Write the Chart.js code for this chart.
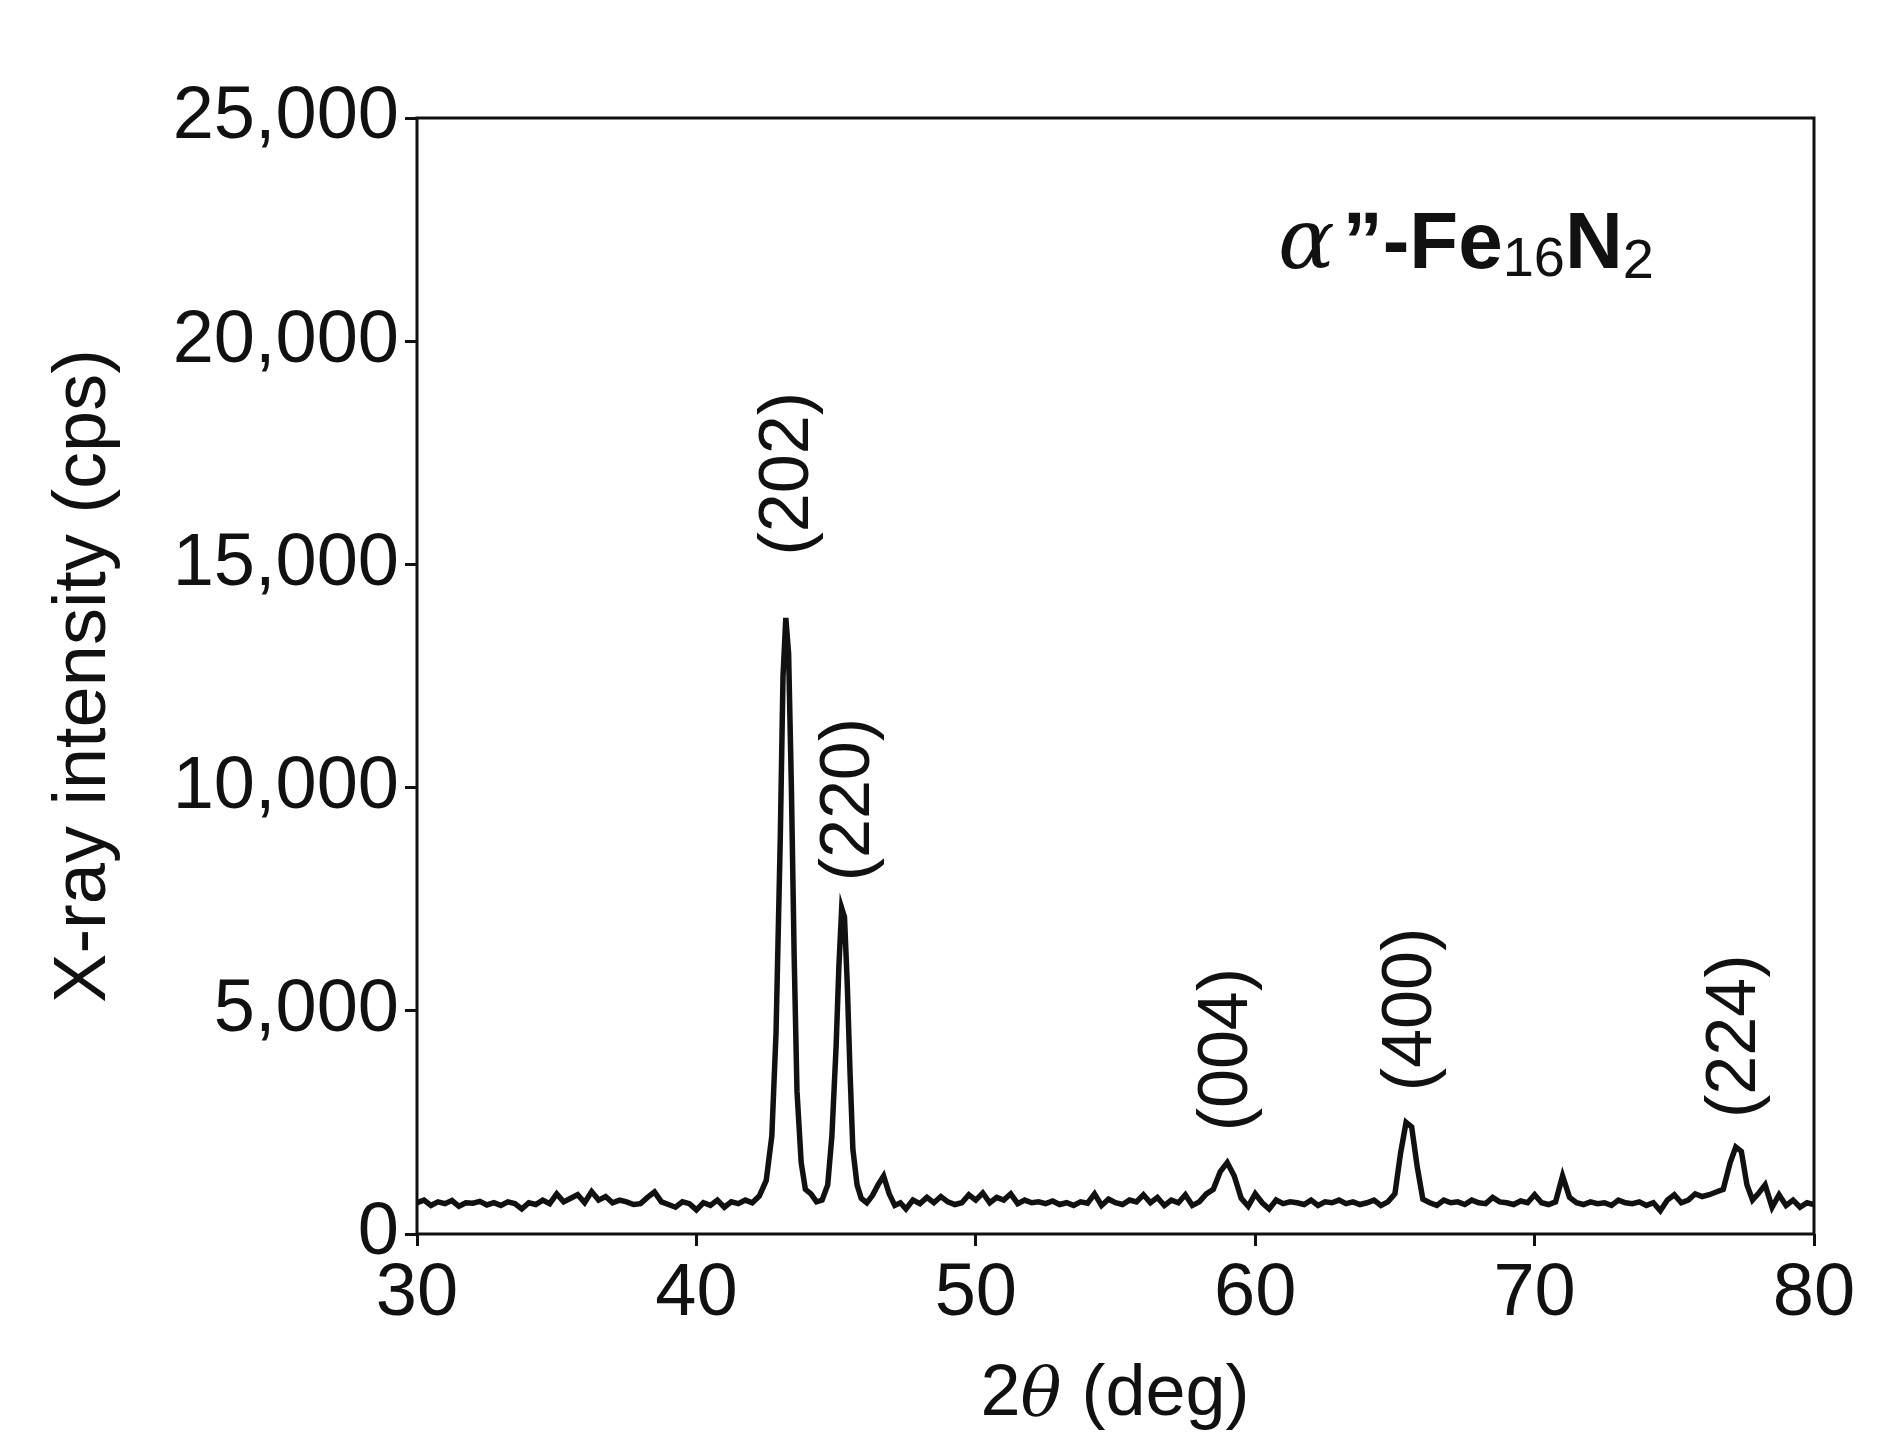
<!DOCTYPE html>
<html>
<head>
<meta charset="utf-8">
<script src="https://cdn.jsdelivr.net/npm/chart.js@4/dist/chart.umd.min.js"></script>
<style>
  body { margin: 0; background: #fff; }
  #wrap { width: 1884px; height: 1446px; }
</style>
</head>
<body>
<div id="wrap"><canvas id="xrd" width="1884" height="1446"></canvas></div>
<script>
// 2theta (deg) and intensity (cps)
const angles = [
  30, 30.25, 30.5, 30.75, 31, 31.25, 31.5, 31.75, 32, 32.25, 32.5, 32.75, 33, 33.25, 33.5, 33.75,
  34, 34.25, 34.5, 34.75, 35, 35.25, 35.5, 35.75, 36, 36.25, 36.5, 36.75, 37, 37.25, 37.5, 37.75,
  38, 38.25, 38.5, 38.75, 39, 39.25, 39.5, 39.75, 40, 40.25, 40.5, 40.75, 41, 41.25, 41.5, 41.75,
  42, 42.25, 42.5, 42.7, 42.85, 43, 43.1, 43.2, 43.3, 43.4, 43.5, 43.6, 43.75, 43.9, 44.1, 44.3,
  44.5, 44.7, 44.85, 45, 45.1, 45.2, 45.3, 45.4, 45.5, 45.6, 45.75, 45.9, 46.1, 46.3, 46.5, 46.7,
  46.9, 47.1, 47.3, 47.5, 47.75, 48, 48.25, 48.5, 48.75, 49, 49.25, 49.5, 49.75, 50, 50.25, 50.5,
  50.75, 51, 51.25, 51.5, 51.75, 52, 52.25, 52.5, 52.75, 53, 53.25, 53.5, 53.75, 54, 54.25, 54.5,
  54.75, 55, 55.25, 55.5, 55.75, 56, 56.25, 56.5, 56.75, 57, 57.25, 57.5, 57.75, 58, 58.25, 58.5,
  58.75, 59, 59.25, 59.5, 59.75, 60, 60.25, 60.5, 60.75, 61, 61.25, 61.5, 61.75, 62, 62.25, 62.5,
  62.75, 63, 63.25, 63.5, 63.75, 64, 64.25, 64.5, 64.75, 65, 65.2, 65.4, 65.6, 65.8, 66, 66.25,
  66.5, 66.75, 67, 67.25, 67.5, 67.75, 68, 68.25, 68.5, 68.75, 69, 69.25, 69.5, 69.75, 70, 70.25,
  70.5, 70.75, 71, 71.25, 71.5, 71.75, 72, 72.25, 72.5, 72.75, 73, 73.25, 73.5, 73.75, 74, 74.25,
  74.5, 74.75, 75, 75.25, 75.5, 75.75, 76, 76.25, 76.5, 76.75, 77, 77.2, 77.4, 77.6, 77.8, 78,
  78.25, 78.5, 78.75, 79, 79.25, 79.5, 79.75, 80
];
const counts = [
  700, 760, 640, 720, 680, 750, 620, 700, 690, 730, 650, 700, 640, 720, 680, 560,
  700, 660, 760, 680, 900, 720, 800, 880, 700, 950, 760, 840, 700, 760, 720, 660,
  680, 820, 940, 720, 660, 600, 720, 680, 540, 700, 640, 760, 600, 720, 680, 760,
  700, 850, 1200, 2200, 4500, 8800, 12500, 13800, 13000, 10000, 6200, 3200, 1600, 1000, 900, 720,
  760, 1100, 2200, 4200, 6000, 7300, 7100, 5600, 3600, 1900, 1100, 800, 700, 860, 1100, 1300,
  900, 640, 700, 560, 760, 680, 820, 700, 840, 720, 660, 700, 880, 760, 920, 700,
  820, 760, 900, 680, 760, 700, 720, 680, 740, 660, 700, 640, 720, 690, 900, 640,
  780, 700, 660, 760, 720, 880, 700, 820, 640, 760, 700, 880, 640, 720, 900, 1000,
  1400, 1600, 1300, 800, 620, 900, 700, 560, 760, 680, 720, 700, 660, 760, 640, 720,
  700, 760, 680, 720, 660, 700, 760, 640, 720, 900, 1800, 2500, 2400, 1500, 780, 700,
  640, 760, 700, 720, 660, 760, 700, 680, 820, 720, 700, 660, 740, 700, 880, 700,
  660, 720, 1300, 820, 700, 660, 720, 680, 700, 640, 760, 700, 680, 720, 640, 700,
  520, 760, 880, 700, 760, 900, 840, 880, 940, 1000, 1600, 1950, 1850, 1100, 760, 900,
  1100, 600, 880, 640, 760, 600, 700, 660
];
const yTicks = [0, 5000, 10000, 15000, 20000, 25000];
const xTicks = [30, 40, 50, 60, 70, 80];
const peakLabels = ["(202)", "(220)", "(004)", "(400)", "(224)"];
const peakAngles = [43.3, 45.5, 59.0, 65.6, 77.2];
const labelBase = [15200, 7900, 2300, 3200, 2600];

const FONT = "'Liberation Sans Narrow', 'Liberation Sans', sans-serif";

const textPlugin = {
  id: "xrdText",
  afterDraw(c) {
    const ctx = c.ctx;
    const xs = c.scales.x, ys = c.scales.y;
    ctx.save();
    ctx.fillStyle = "#111";
    // peak labels, rotated
    ctx.font = "500 70px 'Liberation Sans', sans-serif";
    ctx.textAlign = "left";
    ctx.textBaseline = "middle";
    for (let i = 0; i < peakLabels.length; i++) {
      ctx.save();
      ctx.translate(xs.getPixelForValue(peakAngles[i]), ys.getPixelForValue(labelBase[i]));
      ctx.rotate(-Math.PI / 2);
      ctx.fillText(peakLabels[i], 0, 0);
      ctx.restore();
    }
    // phase name
    ctx.textBaseline = "alphabetic";
    let x = 1278, y = 268;
    ctx.font = "italic 84px 'DejaVu Serif', serif";
    ctx.fillText("α", x, y); x += ctx.measureText("α").width + 8;
    ctx.font = "bold 80px 'Liberation Sans', sans-serif";
    ctx.fillText("\u201D-Fe", x, y); x += ctx.measureText("\u201D-Fe").width;
    ctx.font = "56px 'Liberation Sans', sans-serif";
    ctx.fillText("16", x, y + 8); x += ctx.measureText("16").width;
    ctx.font = "bold 80px 'Liberation Sans', sans-serif";
    ctx.fillText("N", x, y); x += ctx.measureText("N").width;
    ctx.font = "56px 'Liberation Sans', sans-serif";
    ctx.fillText("2", x, y + 10);
    // x axis title
    const parts = [["2", "72px " + FONT], ["θ", "italic 68px 'DejaVu Serif', serif"], [" (deg)", "72px " + FONT]];
    let total = 0;
    parts.forEach(p => { ctx.font = p[1]; total += ctx.measureText(p[0]).width; });
    x = 1115 - total / 2; y = 1415;
    parts.forEach(p => { ctx.font = p[1]; ctx.fillText(p[0], x, y); x += ctx.measureText(p[0]).width; });
    // frame
    ctx.strokeStyle = "#111";
    ctx.lineWidth = 3;
    ctx.strokeRect(xs.left, ys.top, xs.right - xs.left, ys.bottom - ys.top);
    ctx.restore();
  }
};

new Chart(document.getElementById("xrd"), {
  type: "line",
  data: {
    datasets: [{
      data: angles.map((a, i) => ({ x: a, y: counts[i] })),
      borderColor: "#111",
      borderWidth: 5.5,
      pointRadius: 0,
      tension: 0
    }]
  },
  options: {
    responsive: false,
    animation: false,
    layout: { padding: { top: 118, right: 70, left: 40, bottom: 0 } },
    plugins: { legend: { display: false }, tooltip: { enabled: false } },
    scales: {
      x: {
        type: "linear", min: 30, max: 80,
        afterBuildTicks: s => { s.ticks = xTicks.map(v => ({ value: v })); },
        afterFit: s => { s.height = 212; },
        grid: { drawOnChartArea: false, tickLength: 12, color: "#111", lineWidth: 3 },
        border: { display: false },
        ticks: { color: "#111", font: { size: 74, family: FONT }, padding: 4, maxRotation: 0 }
      },
      y: {
        min: 0, max: 25000,
        afterBuildTicks: s => { s.ticks = yTicks.map(v => ({ value: v })); },
        afterFit: s => { s.width = 377; },
        grid: { drawOnChartArea: false, tickLength: 12, color: "#111", lineWidth: 3 },
        border: { display: false },
        title: { display: true, text: "X-ray intensity (cps)", color: "#111", font: { size: 74, family: FONT }, padding: 0 },
        ticks: {
          color: "#111", font: { size: 74, family: FONT }, padding: 6,
          callback: v => v.toLocaleString("en-US")
        }
      }
    }
  },
  plugins: [textPlugin]
});
</script>
</body>
</html>
